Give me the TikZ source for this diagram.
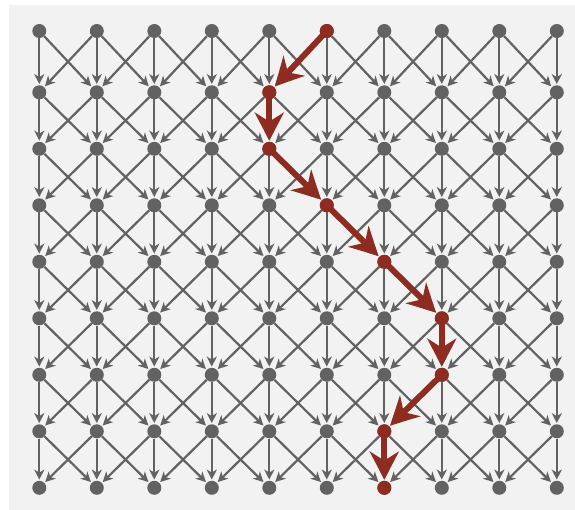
\documentclass[tikz,border=0pt]{standalone}
\usepackage{tikz}
\usetikzlibrary{arrows.meta, positioning}
\definecolor{gridgray}{RGB}{98,98,98}
\definecolor{bggray}{RGB}{242,242,242}
\definecolor{pathred}{RGB}{142,44,34}
\tikzset{
	dot/.style={circle, fill=gridgray, inner sep=0pt, minimum size=14pt}
}
\tikzset{
	reddot/.style={circle, fill=pathred, inner sep=0pt, minimum size=14pt}
}
\tikzset{
	link/.style={draw=gridgray, line width=2.2pt, shorten >=1pt,
		-{Stealth[length=10pt, width=10pt, inset=3pt]}}
}
\tikzset{
	redlink/.style={draw=pathred, line width=6pt, shorten >=1pt,
		-{Stealth[length=28pt, width=29pt, inset=9pt]}}
}

\begin{document}
\begin{tikzpicture}[x=1pt, y=-1pt]
      \useasboundingbox (0,0) rectangle (575,510);
      \fill[bggray] (9,5) rectangle (575,510);
      % grid of dots
      \foreach \y [count=\r from 0] in {31,92.3,148.8,205.3,261.8,318.3,374.8,431.3,487.8} {
        \foreach \c in {0,...,9} {
          \node[dot] (dot-\r-\c) at ({39.3+57.5*\c},\y) {};
        }
      }
      % every dot points to the three dots below it
      \foreach \r [evaluate=\r as \s using int(\r+1)] in {0,...,7} {
        \foreach \c [evaluate=\c as \lc using int(\c-1),
                     evaluate=\c as \rc using int(\c+1)] in {0,...,9} {
          \draw[link] (dot-\r-\c) -- (dot-\s-\c);
          \ifnum\c>0 \draw[link] (dot-\r-\c) -- (dot-\s-\lc); \fi
          \ifnum\c<9 \draw[link] (dot-\r-\c) -- (dot-\s-\rc); \fi
        }
      }
      % highlighted path
      \foreach \r/\c in {0/5,1/4,2/4,3/5,4/6,5/7,6/7,7/6,8/6} {
        \node[reddot] (hot-\r) at (dot-\r-\c) {};
      }
      \foreach \r [evaluate=\r as \s using int(\r+1)] in {0,...,7} {
        \draw[redlink] (hot-\r.center) -- (hot-\s);
      }
    \end{tikzpicture}
\end{document}
